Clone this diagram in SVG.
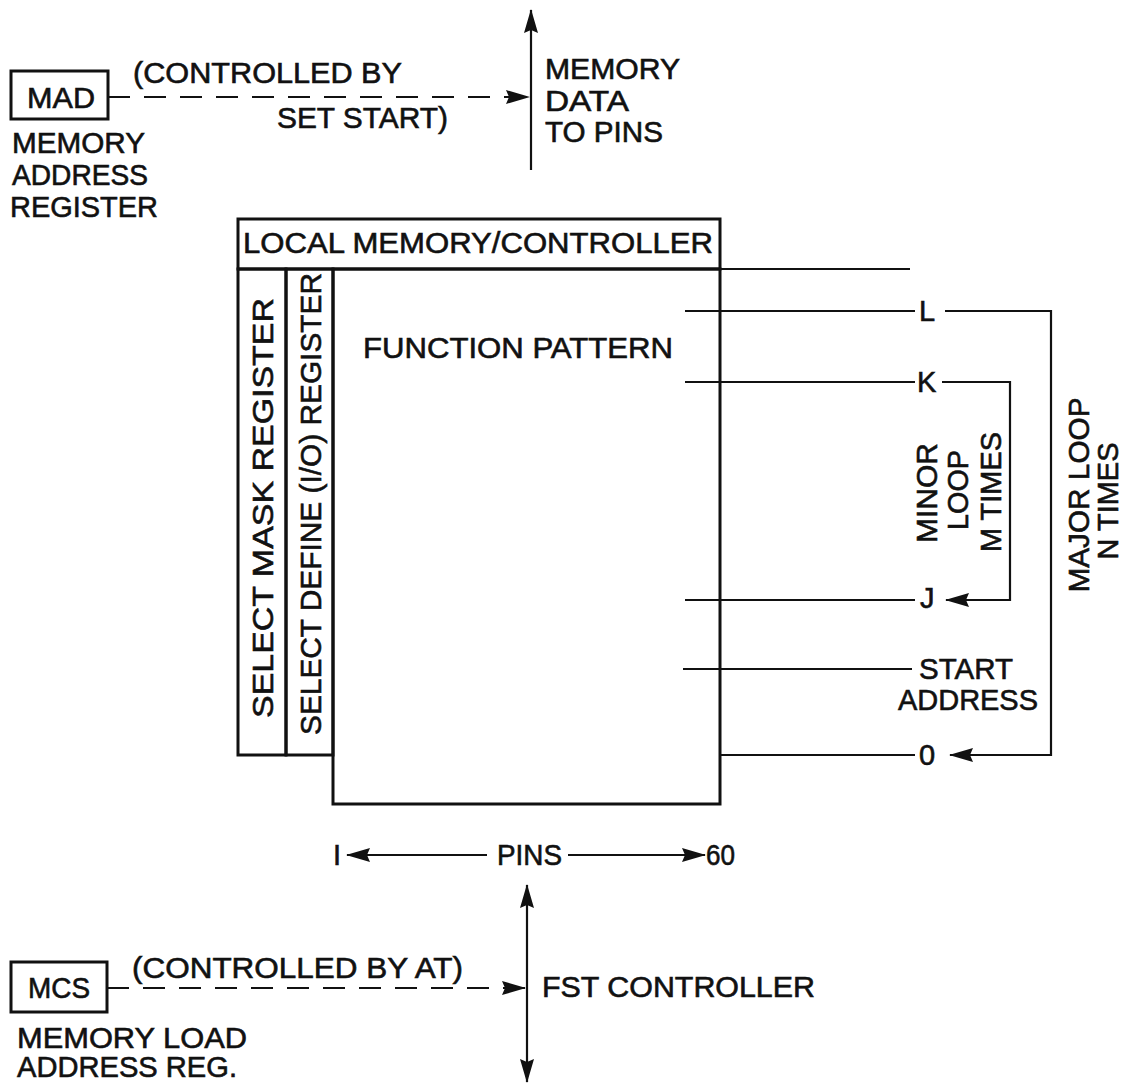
<svg xmlns="http://www.w3.org/2000/svg" width="1128" height="1083" viewBox="0 0 1128 1083">
<style>
text{font-family:"Liberation Sans",Arial,sans-serif;font-size:29px;fill:#111;stroke:#111;stroke-width:0.6;}
.box{fill:none;stroke:#111;stroke-width:3;}
.ln{fill:none;stroke:#111;stroke-width:2.2;}
.dash{fill:none;stroke:#111;stroke-width:2.2;stroke-dasharray:22 14;}
.mid{text-anchor:middle;}
</style>
<defs>
<marker id="ah" viewBox="0 0 24 14" refX="23" refY="7" markerWidth="24" markerHeight="14" markerUnits="userSpaceOnUse" orient="auto-start-reverse">
<path d="M0,0 L24,7 L0,14 L3,7 z" fill="#111"/>
</marker>
</defs>
<rect width="1128" height="1083" fill="#fff"/>

<g id="mad">
<rect class="box" x="11" y="71" width="97" height="48"/>
<text x="27" y="108" textLength="68" lengthAdjust="spacingAndGlyphs">MAD</text>
<text x="12" y="153" textLength="133" lengthAdjust="spacingAndGlyphs">MEMORY</text>
<text x="12" y="185" textLength="136" lengthAdjust="spacingAndGlyphs">ADDRESS</text>
<text x="10" y="217" textLength="148" lengthAdjust="spacingAndGlyphs">REGISTER</text>
</g>

<g id="mad-label">
<text x="133" y="83" textLength="269" lengthAdjust="spacingAndGlyphs">(CONTROLLED BY</text>
<text x="277" y="128" textLength="171" lengthAdjust="spacingAndGlyphs">SET START)</text>
</g>

<g id="memory-data">
<text x="545" y="79" textLength="135" lengthAdjust="spacingAndGlyphs">MEMORY</text>
<text x="545" y="111" textLength="84" lengthAdjust="spacingAndGlyphs">DATA</text>
<text x="545" y="142" textLength="118" lengthAdjust="spacingAndGlyphs">TO PINS</text>
</g>

<g id="local-memory">
<rect class="box" x="238" y="219" width="482" height="50"/>
<text x="243" y="253" textLength="470" lengthAdjust="spacingAndGlyphs">LOCAL MEMORY/CONTROLLER</text>
</g>

<g id="select-mask">
<rect class="box" x="238" y="269" width="48" height="486"/>
<text class="mid" transform="translate(273,508) rotate(-90)" textLength="420" lengthAdjust="spacingAndGlyphs">SELECT MASK REGISTER</text>
</g>

<g id="select-define">
<rect class="box" x="286" y="269" width="47" height="486"/>
<text class="mid" transform="translate(321,504) rotate(-90)" textLength="462" lengthAdjust="spacingAndGlyphs">SELECT DEFINE (I/O) REGISTER</text>
</g>

<g id="function-pattern">
<rect class="box" x="333" y="269" width="387" height="535"/>
<text x="363" y="358" textLength="310" lengthAdjust="spacingAndGlyphs">FUNCTION PATTERN</text>
</g>

<g id="addr-L"><text x="919" y="321">L</text></g>
<g id="addr-K"><text x="917" y="392">K</text></g>
<g id="addr-J"><text x="920" y="608">J</text></g>
<g id="addr-start">
<text x="919" y="679" textLength="94" lengthAdjust="spacingAndGlyphs">START</text>
<text x="898" y="710" textLength="140" lengthAdjust="spacingAndGlyphs">ADDRESS</text>
</g>
<g id="addr-0"><text x="919" y="765">0</text></g>

<g id="minor-loop">
<text class="mid" transform="translate(937,493) rotate(-90)" textLength="100" lengthAdjust="spacingAndGlyphs">MINOR</text>
<text class="mid" transform="translate(968,490) rotate(-90)" textLength="80" lengthAdjust="spacingAndGlyphs">LOOP</text>
<text class="mid" transform="translate(1001,492) rotate(-90)" textLength="120" lengthAdjust="spacingAndGlyphs">M TIMES</text>
</g>

<g id="major-loop">
<text class="mid" transform="translate(1089,495) rotate(-90)" textLength="195" lengthAdjust="spacingAndGlyphs">MAJOR LOOP</text>
<text class="mid" transform="translate(1118,501) rotate(-90)" textLength="117" lengthAdjust="spacingAndGlyphs">N TIMES</text>
</g>

<g id="pins">
<text x="333" y="865">I</text>
<text x="497" y="865" textLength="65" lengthAdjust="spacingAndGlyphs">PINS</text>
<text x="706" y="865" textLength="29" lengthAdjust="spacingAndGlyphs">60</text>
</g>

<g id="mcs">
<rect class="box" x="11" y="962" width="96" height="50"/>
<text x="28" y="998" textLength="62" lengthAdjust="spacingAndGlyphs">MCS</text>
<text x="17" y="1048" textLength="230" lengthAdjust="spacingAndGlyphs">MEMORY LOAD</text>
<text x="17" y="1077" textLength="220" lengthAdjust="spacingAndGlyphs">ADDRESS REG.</text>
</g>

<g id="mcs-label">
<text x="132" y="978" textLength="331" lengthAdjust="spacingAndGlyphs">(CONTROLLED BY AT)</text>
</g>

<g id="fst-controller">
<text x="542" y="997" textLength="273" lengthAdjust="spacingAndGlyphs">FST CONTROLLER</text>
</g>

<g id="connectors">
<line class="dash" x1="108" y1="97" x2="529" y2="97" marker-end="url(#ah)"/>
<line class="ln" x1="531" y1="170" x2="531" y2="10" marker-end="url(#ah)"/>
<line class="ln" x1="720" y1="269" x2="910" y2="269"/>
<line class="ln" x1="685" y1="311" x2="915" y2="311"/>
<line class="ln" x1="685" y1="382" x2="915" y2="382"/>
<line class="ln" x1="685" y1="600" x2="915" y2="600"/>
<line class="ln" x1="683" y1="669" x2="912" y2="669"/>
<line class="ln" x1="720" y1="755" x2="915" y2="755"/>
<polyline class="ln" points="945,311 1051,311 1051,755 950,755" marker-end="url(#ah)"/>
<polyline class="ln" points="942,382 1010,382 1010,600 946,600" marker-end="url(#ah)"/>
<line class="ln" x1="487" y1="855" x2="347" y2="855" marker-end="url(#ah)"/>
<line class="ln" x1="568" y1="855" x2="705" y2="855" marker-end="url(#ah)"/>
<line class="ln" x1="527" y1="885" x2="527" y2="1082" marker-start="url(#ah)" marker-end="url(#ah)"/>
<line class="dash" x1="107" y1="988" x2="525" y2="988" marker-end="url(#ah)"/>
</g>
</svg>
